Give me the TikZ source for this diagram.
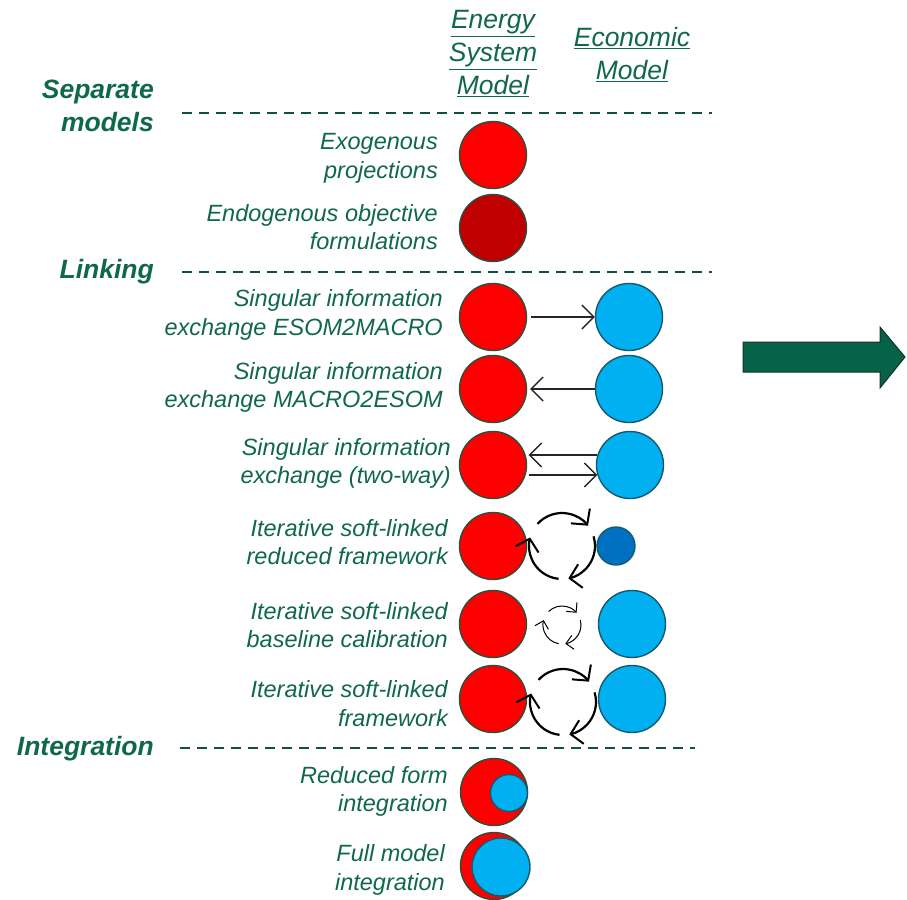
\documentclass[tikz,border=0pt]{standalone}
\usepackage{fontspec}
\setmainfont{Liberation Sans}
\usetikzlibrary{arrows.meta}
\definecolor{tgreen}{RGB}{16,104,76}
\definecolor{cborder}{RGB}{40,80,60}
\definecolor{bborder}{RGB}{20,90,110}
\definecolor{redf}{RGB}{255,0,0}
\definecolor{dredf}{RGB}{192,0,0}
\definecolor{bluef}{RGB}{0,176,240}
\definecolor{dbluef}{RGB}{0,112,192}
\definecolor{arrowg}{RGB}{6,98,72}
\definecolor{arrowb}{RGB}{20,50,35}
\begin{document}
\begin{tikzpicture}[x=1pt,y=1pt,
  lbl/.style={font=\itshape\fontsize{23.5}{28.5}\selectfont, text=tgreen, align=right, anchor=east, inner sep=0pt},
  hdr/.style={font=\itshape\fontsize{26.5}{33}\selectfont, text=tgreen, align=center, inner sep=0pt},
  cat/.style={font=\bfseries\itshape\fontsize{26.5}{33}\selectfont, text=tgreen, align=right, anchor=east, inner sep=0pt},
  redc/.style={circle, draw=cborder, line width=1.4pt, fill=redf, minimum size=67pt, inner sep=0pt},
  dredc/.style={redc, fill=dredf},
  bluec/.style={circle, draw=bborder, line width=1.4pt, fill=bluef, minimum size=67pt, inner sep=0pt},
  sbluec/.style={bluec, fill=dbluef, minimum size=38pt},
  sep/.style={draw=tgreen!80!black, line width=1.2pt, dash pattern=on 10pt off 7pt},
  flow/.style={draw=black!85, line width=1.3pt, -{Straight Barb[length=12pt,width=24pt,line width=1.3pt]}},
  cyc/.style={draw=black, line width=2.2pt, -{Straight Barb[length=11pt,width=24pt,line width=2pt]}},
  scyc/.style={draw=black, line width=1pt, -{Straight Barb[length=7pt,width=14pt,line width=1pt]}}
]
\useasboundingbox (0,0) rectangle (907,-899);

% headers
\node[hdr] (hesm) at (493,-54) {\underline{Energy}\\\underline{System}\\\underline{Model}};
\node[hdr] (heco) at (632,-54.5) {\underline{Economic}\\\underline{Model}};

% categories
\node[cat] (csep) at (154,-105.5) {Separate\\models};
\node[cat] (clink) at (154,-272) {Linking};
\node[cat] (cint) at (154,-749) {Integration};

% dashed separators
\coordinate (d1a) at (182,-113); \coordinate (d1b) at (712,-113);
\coordinate (d2a) at (182,-272); \coordinate (d2b) at (712,-272);
\coordinate (d3a) at (180,-748); \coordinate (d3b) at (695,-748);
\draw[sep] (d1a) -- (d1b);
\draw[sep] (d2a) -- (d2b);
\draw[sep] (d3a) -- (d3b);

% row labels
\node[lbl] (l1) at (438,-158.5) {Exogenous\\projections};
\node[lbl] (l2) at (438,-227) {Endogenous objective\\formulations};
\node[lbl] (l3) at (443,-315) {Singular information\\exchange ESOM2MACRO};
\node[lbl] (l4) at (443,-387.5) {Singular information\\exchange MACRO2ESOM};
\node[lbl] (l5) at (451,-463.5) {Singular information\\exchange (two-way)};
\node[lbl] (l6) at (448,-542) {Iterative soft-linked\\reduced framework};
\node[lbl] (l7) at (448,-625) {Iterative soft-linked\\baseline calibration};
\node[lbl] (l8) at (448,-703.5) {Iterative soft-linked\\framework};
\node[lbl] (l9) at (448,-791.5) {Reduced form\\integration};
\node[lbl] (l10) at (445,-870) {Full model\\integration};

% circles
\node[redc] (r1) at (493,-155) {};
\node[dredc] (r2) at (493,-228) {};
\node[redc] (r3) at (493,-317) {};
\node[bluec] (b3) at (629,-317) {};
\node[redc] (r4) at (493,-389) {};
\node[bluec] (b4) at (629,-389) {};
\node[redc] (r5) at (493,-465) {};
\node[bluec] (b5) at (630,-465) {};
\node[redc] (r6) at (493,-546) {};
\node[sbluec] (b6) at (616,-546) {};
\node[redc] (r7) at (493,-624) {};
\node[bluec] (b7) at (632,-624) {};
\node[redc] (r8) at (493,-699) {};
\node[bluec] (b8) at (632,-699) {};
\node[redc] (r9) at (494,-792) {};
\node[bluec, minimum size=37pt] (b9) at (509,-793) {};
\node[redc] (r10) at (494,-866) {};
\node[bluec, minimum size=58pt] (b10) at (501,-867) {};

% straight exchanges
\draw[flow] ([xshift=4pt]r3.east) -- (b3.west);
\draw[flow] (b4.west) -- ([xshift=3pt]r4.east);
\draw[flow] (b5.163) -- ([xshift=3pt]r5.17);
\draw[flow] ([xshift=3pt]r5.-17) -- (b5.197);

% cycles
\coordinate (c6) at (562,-546);
\draw[cyc] ([shift={(138:33)}]c6) arc[start angle=138, end angle=38, radius=33];
\draw[cyc] ([shift={(17:33)}]c6) arc[start angle=17, end angle=-79, radius=33];
\draw[cyc] ([shift={(-96:33)}]c6) arc[start angle=-96, end angle=-195, radius=33];

\coordinate (c7) at (562,-625);
\draw[scyc] ([shift={(135:19)}]c7) arc[start angle=135, end angle=40, radius=19];
\draw[scyc] ([shift={(15:19)}]c7) arc[start angle=15, end angle=-80, radius=19];
\draw[scyc] ([shift={(-100:19)}]c7) arc[start angle=-100, end angle=-195, radius=19];

\coordinate (c8) at (563,-702);
\draw[cyc] ([shift={(138:33)}]c8) arc[start angle=138, end angle=38, radius=33];
\draw[cyc] ([shift={(17:33)}]c8) arc[start angle=17, end angle=-79, radius=33];
\draw[cyc] ([shift={(-96:33)}]c8) arc[start angle=-96, end angle=-195, radius=33];

% big arrow
\draw[fill=arrowg, draw=arrowb, line width=1pt]
  (743,-342) -- (880,-342) -- (880,-327) -- (905,-357) -- (880,-388) -- (880,-372) -- (743,-372) -- cycle;
\end{tikzpicture}
\end{document}
